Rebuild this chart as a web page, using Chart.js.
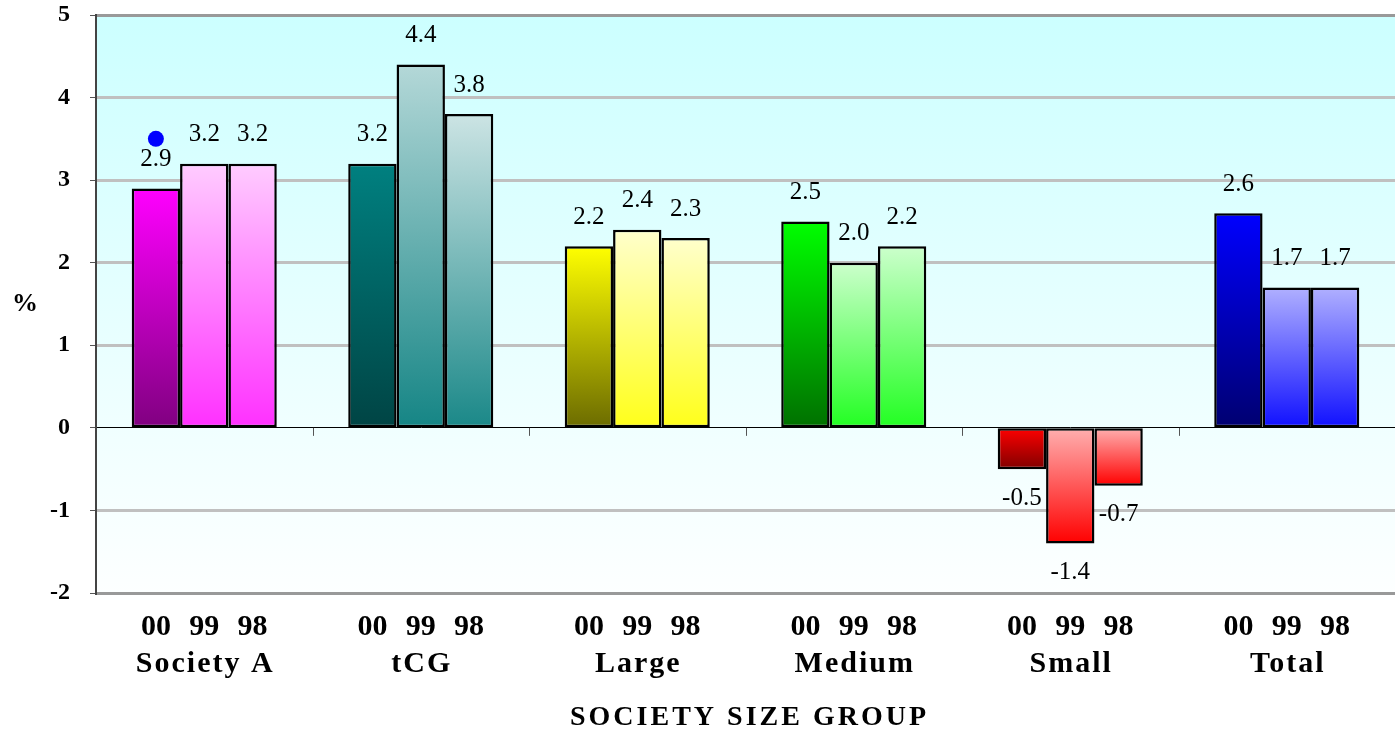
<!DOCTYPE html>
<html>
<head>
<meta charset="utf-8">
<script src="https://cdn.jsdelivr.net/npm/chart.js@4/dist/chart.umd.min.js"></script>
<style>
  body { margin: 0; background: #fff; }
  #contenedor { width: 1395px; height: 734px; }
</style>
</head>
<body>
<div id="contenedor"><canvas id="grafico" width="1395" height="734"></canvas></div>
<script>
// Datos del grafico
const grupos = ['Society A', 'tCG', 'Large', 'Medium', 'Small', 'Total'];
const series = ['00', '99', '98'];
const valores00 = [2.9, 3.2, 2.2, 2.5, -0.5, 2.6];
const valores99 = [3.2, 4.4, 2.4, 2.0, -1.4, 1.7];
const valores98 = [3.2, 3.8, 2.3, 2.2, -0.7, 1.7];
const ticksY = [-2, -1, 0, 1, 2, 3, 4, 5];

// Punto azul sobre la barra 00 de Society A
const marcaValor = 3.5;
const marcaGrupo = 'Society A';
const marcaSerie = '00';

const tituloX = 'SOCIETY SIZE GROUP';
const tituloY = '%';

// Colores [arriba, abajo] por grupo y serie
const colores = {
  '00': [['#ff00ff', '#800080'], ['#008080', '#004444'], ['#ffff00', '#6b6b00'],
         ['#00ff00', '#007000'], ['#ff0000', '#800000'], ['#0000ff', '#000070']],
  '99': [['#ffccff', '#ff30ff'], ['#b4d8d8', '#158585'], ['#ffffcc', '#ffff1a'],
         ['#ccffcc', '#22ff22'], ['#ffb0b0', '#ff0000'], ['#b0b0ff', '#1010ff']],
  '98': [['#ffccff', '#ff30ff'], ['#cce4e4', '#1a8888'], ['#ffffcc', '#ffff1a'],
         ['#ccffcc', '#22ff22'], ['#ffb0b0', '#ff0000'], ['#b0b0ff', '#1010ff']]
};

const fuente = '"Liberation Serif", "Times New Roman", serif';

function degradado(serie) {
  return (c) => {
    const par = colores[serie][c.dataIndex] || colores[serie][0];
    const { ctx, chartArea, scales } = c.chart;
    if (!chartArea || c.type !== 'data') return par[0];
    const y0 = scales.y.getPixelForValue(0);
    const y1 = scales.y.getPixelForValue(c.raw);
    const g = ctx.createLinearGradient(0, Math.min(y0, y1), 0, Math.max(y0, y1));
    g.addColorStop(0, par[0]);
    g.addColorStop(1, par[1]);
    return g;
  };
}

// Fondo del area del grafico
const fondoPlugin = {
  id: 'fondo',
  beforeDraw(chart) {
    const { ctx, chartArea: a, scales } = chart;
    const f0 = (scales.y.getPixelForValue(0) - a.top) / (a.bottom - a.top);
    const g = ctx.createLinearGradient(0, a.top, 0, a.bottom);
    g.addColorStop(0, '#ccffff');
    g.addColorStop(f0, '#f0ffff');
    g.addColorStop(1, '#fdffff');
    ctx.save();
    ctx.fillStyle = g;
    ctx.fillRect(a.left, a.top, a.right - a.left, a.bottom - a.top);
    ctx.restore();
  }
};

// Etiquetas, punto y textos de ejes
const textosPlugin = {
  id: 'textos',
  afterDatasetsDraw(chart) {
    const { ctx, scales, chartArea: a } = chart;
    ctx.save();
    // valores sobre/bajo las barras
    ctx.font = '25px ' + fuente;
    ctx.fillStyle = '#000';
    ctx.textAlign = 'center';
    ctx.textBaseline = 'middle';
    chart.data.datasets.forEach((ds, j) => {
      chart.getDatasetMeta(j).data.forEach((bar, i) => {
        const v = ds.data[i];
        const y = v >= 0 ? bar.y - 29 : bar.y + 29;
        ctx.fillText(v.toFixed(1), bar.x, y);
      });
    });
    // punto azul
    const gi = grupos.indexOf(marcaGrupo);
    const si = series.indexOf(marcaSerie);
    const barra = chart.getDatasetMeta(si).data[gi];
    ctx.beginPath();
    ctx.arc(barra.x, scales.y.getPixelForValue(marcaValor), 8, 0, Math.PI * 2);
    ctx.fillStyle = '#0000ff';
    ctx.fill();

    // marcas de categoria sobre la linea de cero
    const y0 = scales.y.getPixelForValue(0);
    ctx.strokeStyle = '#555';
    ctx.lineWidth = 1;
    for (let i = 0; i < grupos.length - 1; i++) {
      const x = Math.round((scales.x.getPixelForValue(i) + scales.x.getPixelForValue(i + 1)) / 2) + 0.5;
      ctx.beginPath();
      ctx.moveTo(x, y0);
      ctx.lineTo(x, y0 + 8);
      ctx.stroke();
    }

    // etiquetas del eje X
    ctx.fillStyle = '#000';
    ctx.font = 'bold 30px ' + fuente;
    series.forEach((s, j) => {
      chart.getDatasetMeta(j).data.forEach((bar) => {
        ctx.fillText(s, bar.x, 627);
      });
    });
    ctx.letterSpacing = '2px';
    grupos.forEach((g, i) => {
      ctx.fillText(g, scales.x.getPixelForValue(i) + 1, 664);
    });
    ctx.font = 'bold 28px ' + fuente;
    ctx.letterSpacing = '3px';
    ctx.fillText(tituloX, (a.left + a.right) / 2 + 4, 718);
    ctx.letterSpacing = '0px';
    ctx.font = 'bold 26px ' + fuente;
    ctx.fillText(tituloY, 25, 304);
    ctx.restore();
  }
};

const ctx = document.getElementById('grafico').getContext('2d');

const grafico = new Chart(ctx, {
  type: 'bar',
  data: {
    labels: grupos,
    datasets: [
      { label: series[0], data: valores00, backgroundColor: degradado('00') },
      { label: series[1], data: valores99, backgroundColor: degradado('99') },
      { label: series[2], data: valores98, backgroundColor: degradado('98') }
    ]
  },
  options: {
    responsive: false,
    animation: false,
    devicePixelRatio: 1,
    layout: { padding: { top: 15, right: 0, bottom: 0, left: 0 } },
    datasets: {
      bar: {
        categoryPercentage: 0.67,
        barPercentage: 1.0,
        borderColor: '#000',
        borderWidth: 2.5,
        borderSkipped: false
      }
    },
    plugins: {
      legend: { display: false },
      tooltip: { enabled: false }
    },
    scales: {
      x: {
        offset: true,
        grid: { display: false },
        border: { display: false },
        ticks: { display: false },
        afterFit: (s) => { s.height = 141; }
      },
      y: {
        min: -2,
        max: 5,
        afterBuildTicks: (s) => { s.ticks = ticksY.map(v => ({ value: v })); },
        afterFit: (s) => { s.width = 96; s.paddingTop = 0; s.paddingBottom = 0; },
        border: { color: '#444', width: 2 },
        grid: {
          color: (c) => {
            const v = c.tick && c.tick.value;
            if (v === 0) return '#000';
            if (v === 5 || v === -2) return '#999';
            return '#c0c0c0';
          },
          lineWidth: (c) => (c.tick && c.tick.value === 0) ? 1 : 3,
          tickColor: '#555',
          tickWidth: 1,
          tickLength: 6
        },
        ticks: {
          padding: 20,
          color: '#000',
          font: { family: fuente, size: 24, weight: 'bold' }
        }
      }
    }
  },
  plugins: [fondoPlugin, textosPlugin]
});
</script>
</body>
</html>
